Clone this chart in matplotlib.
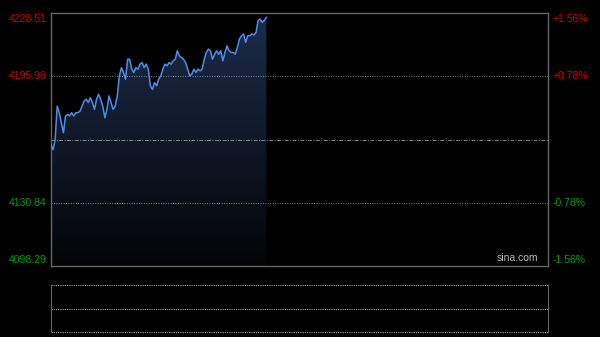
import matplotlib
matplotlib.use('Agg')
import matplotlib.pyplot as plt
import numpy as np
from matplotlib.colors import LinearSegmentedColormap

plt.rcParams['font.family'] = ['Liberation Sans', 'DejaVu Sans']

# intraday prices, one per minute from 9:30
prices = [4160.8, 4158.2, 4163.4, 4180.6, 4177.2, 4172.0, 4166.9, 4175.5, 4176.3, 4175.5,
          4177.2, 4175.5, 4177.2, 4177.2, 4178.0, 4180.6, 4183.2, 4184.1, 4182.4, 4184.9,
          4182.4, 4178.9, 4184.1, 4186.7, 4184.1, 4180.6, 4174.6, 4178.9, 4185.8, 4182.4,
          4178.9, 4180.6, 4185.8, 4196.1, 4200.4, 4197.9, 4194.4, 4204.7, 4204.7, 4199.6,
          4197.9, 4200.4, 4199.6, 4202.2, 4203.0, 4200.4, 4202.2, 4199.6, 4191.0, 4189.2,
          4192.7, 4191.0, 4194.4, 4196.1, 4199.6, 4202.2, 4201.3, 4203.0, 4202.2, 4203.9,
          4204.7, 4209.1, 4206.5, 4205.6, 4204.7, 4203.0, 4199.6, 4196.1, 4197.0, 4199.6,
          4197.9, 4199.6, 4198.7, 4199.6, 4204.7, 4208.2, 4209.9, 4209.1, 4204.7, 4207.3,
          4209.1, 4207.3, 4209.1, 4203.9, 4208.2, 4211.6, 4209.1, 4208.2, 4208.2, 4207.3,
          4210.8, 4215.1, 4216.8, 4217.7, 4213.4, 4216.8, 4216.8, 4217.7, 4217.2, 4218.5,
          4224.6, 4225.4, 4223.7, 4224.6, 4226.3]

prev_close = 4163.40
y_ticks = [4228.51, 4195.96, 4130.84, 4098.29]
pct_labels = ['+1.56%', '+0.78%', '-0.78%', '-1.56%']
total_minutes = 240

ymin, ymax = y_ticks[-1], y_ticks[0]
minutes = np.arange(len(prices))

fig = plt.figure(figsize=(6, 3.37), dpi=100, facecolor='black')
ax = fig.add_axes([0.085, 0.2107, 0.8283, 0.7507], facecolor='black')
ax.set_xlim(0, total_minutes)
ax.set_ylim(ymin, ymax)

# gradient fill under the line
cmap = LinearSegmentedColormap.from_list('g', ['#030406', '#1c2c4a'])
grad = np.linspace(0, 1, 256).reshape(-1, 1)
img = ax.imshow(grad, cmap=cmap, origin='lower', aspect='auto',
                extent=[0, total_minutes, ymin, ymax], zorder=1)
poly = ax.fill_between(minutes, prices, ymin, color='none', zorder=1)
img.set_clip_path(poly.get_paths()[0], transform=ax.transData)

ax.plot(minutes, prices, color='#4f8ce8', lw=1.1, zorder=3)

# grid lines
for v in [y_ticks[1], y_ticks[2]]:
    ax.axhline(v, color='#888888', lw=0.7, ls=(0, (1, 1.5)), zorder=2)
ax.axhline(prev_close, color='#888888', lw=0.7, ls=(0, (4, 1.5, 1, 1.5)), zorder=2)

ax.set_xticks([])
ax.set_yticks([])
for s in ax.spines.values():
    s.set_color('#666666')
    s.set_linewidth(1)

# axis labels
tr = ax.get_yaxis_transform()
for i, (v, p) in enumerate(zip(y_ticks, pct_labels)):
    col = '#d00000' if v > prev_close else '#00a000'
    off = 0
    if i == 0:
        off = -4.3
    elif i == len(y_ticks) - 1:
        off = 4.3
    ax.annotate(f'{v:.2f}', (0, v), xycoords=tr, xytext=(-3, off), textcoords='offset points',
                ha='right', va='center', color=col, fontsize=7.5)
    ax.annotate(p, (1, v), xycoords=tr, xytext=(3, off), textcoords='offset points',
                ha='left', va='center', color=col, fontsize=7.5)

ax.text(0.98, 0.012, 'sina.com', transform=ax.transAxes, ha='right', va='bottom',
        color='#bbbbbb', fontsize=7.5)

# volume panel (empty)
ax2 = fig.add_axes([0.085, 0.0148, 0.8283, 0.1395], facecolor='black')
ax2.set_xlim(0, total_minutes)
ax2.set_ylim(0, 2)
ax2.set_xticks([])
ax2.set_yticks([])
for k in ['left', 'right']:
    ax2.spines[k].set_color('#666666')
for k in ['top', 'bottom']:
    ax2.spines[k].set_visible(False)
for v in [0, 1, 2]:
    ax2.axhline(v, color='#aaaaaa', lw=0.8, ls=(0, (1, 1)), clip_on=False)

fig.savefig('out.png', dpi=100, facecolor='black')
